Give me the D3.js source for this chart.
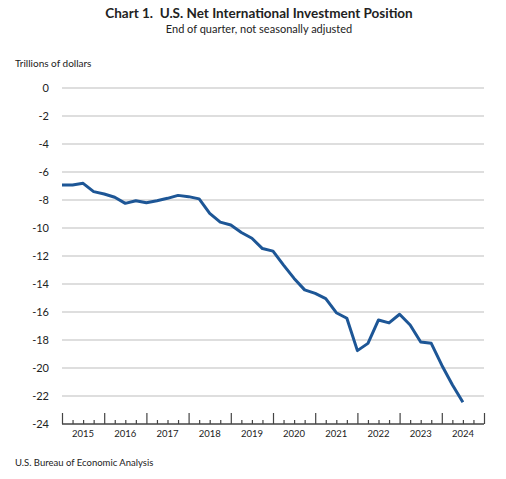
<!DOCTYPE html>
<html>
<head>
<meta charset="utf-8">
<script src="https://cdn.jsdelivr.net/npm/d3@7"></script>
<style>
  body { margin: 0; background: #fff; }
  text { font-family: Lato, "Open Sans", sans-serif; fill: #222; white-space: pre; }
</style>
</head>
<body>
<div class="canvas"></div>
<script>
// Quarter-end positions, 2014Q4 .. 2024Q2
const quarters = [
  "2014Q4",
  "2015Q1", "2015Q2", "2015Q3", "2015Q4",
  "2016Q1", "2016Q2", "2016Q3", "2016Q4",
  "2017Q1", "2017Q2", "2017Q3", "2017Q4",
  "2018Q1", "2018Q2", "2018Q3", "2018Q4",
  "2019Q1", "2019Q2", "2019Q3", "2019Q4",
  "2020Q1", "2020Q2", "2020Q3", "2020Q4",
  "2021Q1", "2021Q2", "2021Q3", "2021Q4",
  "2022Q1", "2022Q2", "2022Q3", "2022Q4",
  "2023Q1", "2023Q2", "2023Q3", "2023Q4",
  "2024Q1", "2024Q2"
];
// Net international investment position, trillions of dollars
const niip = [
  -6.93,
  -6.93, -6.81, -7.40, -7.57,
  -7.80, -8.24, -8.05, -8.19,
  -8.05, -7.88, -7.67, -7.76,
  -7.92, -8.95, -9.58, -9.79,
  -10.32, -10.73, -11.47, -11.65,
  -12.65, -13.60, -14.42, -14.67,
  -15.05, -16.05, -16.45, -18.76,
  -18.24, -16.57, -16.78, -16.16,
  -16.93, -18.14, -18.24, -19.80,
  -21.20, -22.45
];
const years = [2015, 2016, 2017, 2018, 2019, 2020, 2021, 2022, 2023, 2024];
const yTicks = [0, -2, -4, -6, -8, -10, -12, -14, -16, -18, -20, -22, -24];

const dims = { width: 506, height: 479 };
const plot = { left: 62, right: 484, top: 88, bottom: 424 };

// end-of-quarter date as a decimal year
const qEnd = (q) => +q.slice(0, 4) + +q.slice(5) / 4;

const svg = d3
  .select(".canvas")
  .append("svg")
  .attr("width", dims.width)
  .attr("height", dims.height);

const x = d3.scaleLinear().domain([2015, 2025]).range([plot.left, plot.right]);
const y = d3.scaleLinear().domain([-24, 0]).range([plot.bottom, plot.top]);

// Titles
svg.append("text")
  .attr("x", 259).attr("y", 18)
  .attr("text-anchor", "middle")
  .style("font-size", "13.5px").style("font-weight", "bold")
  .text("Chart 1.  U.S. Net International Investment Position");
svg.append("text")
  .attr("x", 259).attr("y", 33)
  .attr("text-anchor", "middle")
  .style("font-size", "11px")
  .text("End of quarter, not seasonally adjusted");
svg.append("text")
  .attr("x", 15).attr("y", 67)
  .style("font-size", "10px")
  .text("Trillions of dollars");
svg.append("text")
  .attr("x", 15).attr("y", 466)
  .style("font-size", "9.5px")
  .text("U.S. Bureau of Economic Analysis");

// Gridlines
svg.append("g")
  .selectAll("line")
  .data(yTicks.filter((d) => d > -24))
  .join("line")
  .attr("x1", plot.left).attr("x2", plot.right)
  .attr("y1", (d) => y(d)).attr("y2", (d) => y(d))
  .attr("stroke", "#d3d3d3")
  .attr("stroke-width", 1.5);

// Y labels
svg.append("g")
  .selectAll("text")
  .data(yTicks)
  .join("text")
  .attr("x", 49)
  .attr("y", (d) => y(d))
  .attr("dy", "0.35em")
  .attr("text-anchor", "end")
  .style("font-size", "11px")
  .text((d) => d);

// X axis: major year ticks and quarter ticks pointing up
const quarterTicks = d3.range(2015, 2025.01, 0.25);
const xAxis = svg.append("g").attr("transform", `translate(0,${plot.bottom})`);
xAxis.call(
  d3.axisBottom(x)
    .tickValues(quarterTicks.filter((d) => d % 1 !== 0))
    .tickSize(-4)
    .tickFormat("")
);
xAxis.append("g").call(
  d3.axisBottom(x)
    .tickValues(quarterTicks.filter((d) => d % 1 === 0))
    .tickSize(-11)
    .tickFormat("")
);
xAxis.selectAll(".domain").attr("d", `M${plot.left},0H${plot.right}`);
xAxis.selectAll("path, line").attr("stroke", "#444").attr("stroke-width", 1.2);

// Year labels centred in each year
svg.append("g")
  .selectAll("text")
  .data(years)
  .join("text")
  .attr("x", (d) => x(d + 0.5))
  .attr("y", 437)
  .attr("text-anchor", "middle")
  .style("font-size", "9.5px")
  .text((d) => d);

// Line
const line = d3.line()
  .x((d, i) => x(qEnd(quarters[i])))
  .y((d) => y(d));

svg.append("path")
  .datum(niip)
  .attr("d", line)
  .attr("fill", "none")
  .attr("stroke", "#1d5696")
  .attr("stroke-width", 3)
  .attr("stroke-linejoin", "round");
</script>
</body>
</html>
